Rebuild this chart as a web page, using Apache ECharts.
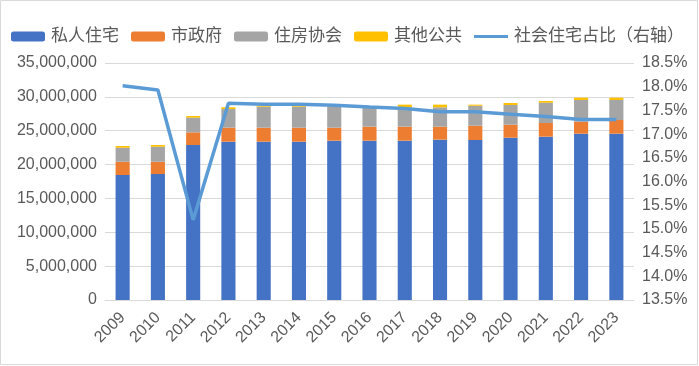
<!DOCTYPE html>
<html><head><meta charset="utf-8">
<script src="https://cdn.jsdelivr.net/npm/echarts@6/dist/echarts.min.js"></script>
<style>html,body{margin:0;padding:0;background:#fff}#c{width:699px;height:366px}</style>
</head><body><div id="c"></div>
<script>
const years = ['2009','2010','2011','2012','2013','2014','2015','2016','2017','2018','2019','2020','2021','2022','2023'];
const privateHousing = [18460000,18600000,22890000,23380000,23380000,23380000,23530000,23530000,23530000,23680000,23630000,23970000,24120000,24560000,24560000];
const municipal =      [1960000,1820000,1870000,2070000,2070000,2070000,1920000,2070000,2070000,1920000,2110000,1920000,2020000,1770000,2020000];
const housingAssoc =   [2070000,2220000,2170000,2750000,3100000,3100000,3100000,2860000,2860000,2860000,2950000,2910000,3000000,3210000,2960000];
const otherPublic =    [250000,250000,240000,260000,150000,150000,150000,150000,390000,390000,160000,290000,250000,340000,340000];
const socialShare =    [18.02,17.93,15.19,17.65,17.63,17.63,17.61,17.57,17.54,17.47,17.47,17.42,17.37,17.31,17.31];

const chart = echarts.init(document.getElementById('c'));
const font = '"Liberation Sans", "Noto Sans CJK SC", sans-serif';
const txt = '#595959';
chart.setOption({
  animation: false,
  textStyle: {fontFamily: font},
  legend: {
    left: 6, top: 23, itemWidth: 34, itemHeight: 10, itemGap: 12,
    textStyle: {fontSize: 17, color: txt, fontFamily: font, padding: [0, 0, 0, 1]},
    data: ['私人住宅','市政府','住房协会','其他公共',{name:'社会住宅占比（右轴）', icon:'path://M0,3.5L36,3.5L36,6.5L0,6.5Z'}]
  },
  grid: {left: 105, right: 65, top: 63, bottom: 66},
  xAxis: {
    type: 'category', data: years,
    axisLine: {lineStyle: {color: '#d9d9d9'}},
    axisTick: {show: false},
    axisLabel: {rotate: 45, fontSize: 16, color: txt, margin: 15, fontFamily: font}
  },
  yAxis: [
    {type: 'value', min: 0, max: 35000000, interval: 5000000,
     splitLine: {lineStyle: {color: '#d9d9d9'}},
     axisLabel: {fontSize: 16, color: txt, fontFamily: font,
       formatter: v => v.toString().replace(/\B(?=(\d{3})+(?!\d))/g, ',')}},
    {type: 'value', min: 13.5, max: 18.5, interval: 0.5,
     splitLine: {show: false},
     axisLabel: {fontSize: 16, color: txt, fontFamily: font, formatter: v => v.toFixed(1) + '%'}}
  ],
  series: [
    {name: '私人住宅', type: 'bar', stack: 'a', data: privateHousing, barWidth: '40%', itemStyle: {color: '#4472C4'}},
    {name: '市政府', type: 'bar', stack: 'a', data: municipal, itemStyle: {color: '#ED7D31'}},
    {name: '住房协会', type: 'bar', stack: 'a', data: housingAssoc, itemStyle: {color: '#A5A5A5'}},
    {name: '其他公共', type: 'bar', stack: 'a', data: otherPublic, itemStyle: {color: '#FFC000'}},
    {name: '社会住宅占比（右轴）', type: 'line', yAxisIndex: 1, data: socialShare, symbol: 'none',
     lineStyle: {color: '#5B9BD5', width: 3.5}, itemStyle: {color: '#5B9BD5'}}
  ],
  graphic: [{type: 'rect', shape: {x: 0.5, y: 0.5, width: 697, height: 364}, style: {fill: 'none', stroke: '#d9d9d9', lineWidth: 1}}]
});
</script></body></html>
